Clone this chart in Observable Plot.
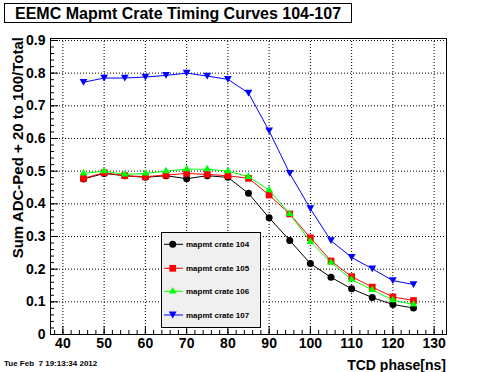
<!DOCTYPE html>
<html>
<head>
<meta charset="utf-8">
<script src="https://cdn.jsdelivr.net/npm/d3@7"></script>
<script src="https://cdn.jsdelivr.net/npm/@observablehq/plot@0.6"></script>
<style>
  html, body { margin: 0; padding: 0; background: #fff; }
  #wrap { position: relative; width: 496px; height: 372px; background: #fff; overflow: hidden; }
  #wrap svg { position: absolute; left: 0; top: 0; }
</style>
</head>
<body>
<div id="wrap"></div>
<script>
// ---- data ----
const title = "EEMC Mapmt Crate Timing Curves 104-107";
const xTitle = "TCD phase[ns]";
const yTitle = "Sum ADC-Ped + 20 to 100/Total";
const dateText = "Tue Feb  7 19:13:34 2012";

const phase = [45, 50, 55, 60, 65, 70, 75, 80, 85, 90, 95, 100, 105, 110, 115, 120, 125];
const crate104 = [0.476, 0.493, 0.486, 0.481, 0.486, 0.477, 0.486, 0.481, 0.432, 0.357, 0.288, 0.217, 0.175, 0.140, 0.113, 0.092, 0.081];
const crate105 = [0.478, 0.495, 0.486, 0.483, 0.488, 0.493, 0.490, 0.486, 0.478, 0.427, 0.369, 0.296, 0.225, 0.177, 0.145, 0.115, 0.104];
const crate106 = [0.493, 0.500, 0.490, 0.493, 0.500, 0.506, 0.506, 0.500, 0.483, 0.442, 0.369, 0.284, 0.220, 0.168, 0.137, 0.105, 0.092];
const crate107 = [0.772, 0.785, 0.785, 0.788, 0.793, 0.800, 0.791, 0.781, 0.739, 0.623, 0.493, 0.385, 0.287, 0.236, 0.201, 0.165, 0.153];

const seriesNames = ["mapmt crate 104", "mapmt crate 105", "mapmt crate 106", "mapmt crate 107"];
const seriesValues = [crate104, crate105, crate106, crate107];
const seriesColors = ["#000000", "#ff0000", "#00ff00", "#0000ff"];

const xTicks = [40, 50, 60, 70, 80, 90, 100, 110, 120, 130];
const xTickLabels = ["40", "50", "60", "70", "80", "90", "100", "110", "120", "130"];
const xMinor = d3.range(38, 133, 2);
const yTicks = [0, 0.1, 0.2, 0.3, 0.4, 0.5, 0.6, 0.7, 0.8, 0.9];
const yTickLabels = ["0", "0.1", "0.2", "0.3", "0.4", "0.5", "0.6", "0.7", "0.8", "0.9"];
const yMinor = d3.range(0, 46).map(i => +(i * 0.02).toFixed(2));

// ---- layout ----
const W = 496, H = 372;
const mL = 50, mR = 50, mT = 38, mB = 38;
const frameW = W - mL - mR, frameH = H - mT - mB;
const FONT = "'Liberation Sans', Arial, Helvetica, sans-serif";

const triangleDown = {
  draw(ctx, size) {
    const s = Math.sqrt(size * 4 / Math.sqrt(3));
    const h = s * Math.sqrt(3) / 2;
    ctx.moveTo(-s / 2, -h / 2);
    ctx.lineTo(s / 2, -h / 2);
    ctx.lineTo(0, h / 2);
    ctx.closePath();
  }
};
const seriesSymbols = ["circle", "square", "triangle", triangleDown];
const seriesR = [3.5, 3.8, 2.8, 2.9];

const rows = [];
seriesValues.forEach((vals, si) => vals.forEach((v, i) => rows.push({s: si, x: phase[i], y: v})));

const marks = [
  Plot.gridX(xTicks, {stroke: "#000", strokeOpacity: 1, strokeDasharray: "1,2"}),
  Plot.gridY(yTicks.filter(d => d > 0), {stroke: "#000", strokeOpacity: 1, strokeDasharray: "1,2"}),
  Plot.tickX(xMinor, {x: d => d, stroke: "#000", insetTop: frameH - 4}),
  Plot.tickX(xTicks, {x: d => d, stroke: "#000", insetTop: frameH - 8}),
  Plot.tickY(yMinor, {y: d => d, stroke: "#000", insetRight: frameW - 4}),
  Plot.tickY(yTicks, {y: d => d, stroke: "#000", insetRight: frameW - 8}),
];
seriesValues.forEach((vals, si) => {
  const data = rows.filter(r => r.s === si);
  marks.push(Plot.line(data, {x: "x", y: "y", stroke: seriesColors[si], strokeWidth: 1, curve: "linear"}));
  marks.push(Plot.dot(data, {x: "x", y: "y", symbol: seriesSymbols[si], r: seriesR[si], fill: seriesColors[si], stroke: "none"}));
});
marks.push(
  Plot.frame({stroke: "#000", strokeWidth: 1}),
  Plot.axisX(xTicks, {tickSize: 0, tickPadding: 4, label: null, fontSize: 14, fontWeight: "bold",
    tickFormat: d => xTickLabels[xTicks.indexOf(d)]}),
  Plot.axisY(yTicks, {tickSize: 0, tickPadding: 5, label: null, fontSize: 14, fontWeight: "bold",
    tickFormat: d => yTickLabels[yTicks.indexOf(d)]})
);

const chart = Plot.plot({
  width: W, height: H,
  marginLeft: mL, marginRight: mR, marginTop: mT, marginBottom: mB,
  x: {domain: [37, 133]},
  y: {domain: [0, 0.906]},
  style: {fontFamily: FONT, color: "#000", background: "transparent", overflow: "visible"},
  marks
});
const wrap = document.getElementById("wrap");
wrap.appendChild(chart);

// ---- overlay: title, axis titles, date, legend ----
const ov = d3.select(wrap).append("svg")
  .attr("width", W).attr("height", H)
  .style("font-family", FONT).style("font-weight", "bold");

ov.append("rect").attr("x", 4.5).attr("y", 3.5).attr("width", 347).attr("height", 19)
  .attr("fill", "#fff").attr("stroke", "#000");
ov.append("text").attr("x", 15).attr("y", 18.5).attr("font-size", 16).text(title);

ov.append("text").attr("x", 446).attr("y", 369.5).attr("text-anchor", "end").attr("font-size", 14).text(xTitle);
ov.append("text").attr("transform", "translate(22.5,37) rotate(-90)").attr("text-anchor", "end")
  .attr("font-size", 15).text(yTitle);
ov.append("text").attr("x", 4).attr("y", 366).attr("font-size", 8).style("white-space", "pre")
  .attr("xml:space", "preserve").text(dateText);

const lg = ov.append("g");
lg.append("rect").attr("x", 161.5).attr("y", 232.5).attr("width", 99).attr("height", 95)
  .attr("fill", "#f0f0f0").attr("stroke", "#000");
const rowY = [244.3, 268.3, 291.3, 315];
seriesNames.forEach((name, i) => {
  const y = rowY[i];
  lg.append("line").attr("x1", 164).attr("x2", 183).attr("y1", y).attr("y2", y)
    .attr("stroke", seriesColors[i]).attr("stroke-width", 1);
  const sym = d3.symbol().type(typeof seriesSymbols[i] === "string"
      ? {circle: d3.symbolCircle, square: d3.symbolSquare, triangle: d3.symbolTriangle}[seriesSymbols[i]]
      : seriesSymbols[i]).size(Math.PI * seriesR[i] * seriesR[i]);
  lg.append("path").attr("d", sym()).attr("transform", `translate(172.7,${y})`).attr("fill", seriesColors[i]);
  lg.append("text").attr("x", 186).attr("y", y).attr("dy", "0.35em").attr("font-size", 8).text(name);
});
</script>
</body>
</html>
